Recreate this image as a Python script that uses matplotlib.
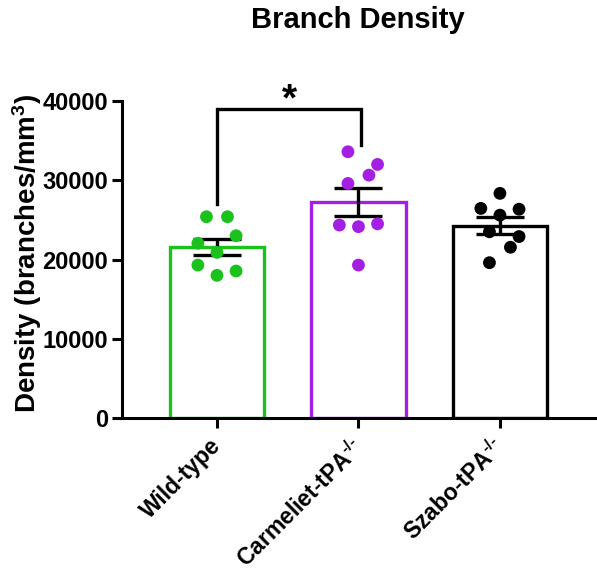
import numpy as np
import matplotlib
matplotlib.use("Agg")
import matplotlib.pyplot as plt
from matplotlib.transforms import ScaledTranslation

# ---- data -------------------------------------------------------------
groups = ["Wild-type", r"Carmeliet-tPA$^{\text{-/-}}$", r"Szabo-tPA$^{\text{-/-}}$"]
wild_type = [25400, 25400, 23000, 22050, 20900, 19300, 18550, 18000]
carmeliet = [33600, 32000, 30650, 29600, 24350, 24150, 24500, 19300]
szabo = [28350, 26450, 26350, 25600, 23500, 22900, 21550, 19600]
yticks = [0, 10000, 20000, 30000, 40000]

# significance annotation between the first two groups
sig_label = "*"
sig_top = 39000
sig_left_end = 27000
sig_right_end = 34500

# ---- layout / style ---------------------------------------------------
colors = ["#1cc21c", "#a51fe3", "#000000"]
bar_width = 0.67
jitter_step = 0.135
# horizontal slot of each dot (in steps of jitter_step)
slots = [
    [-0.55, 0.55, 1.0, -1.0, 0.0, -1.0, 1.0, 0.0],
    [-0.55, 1.0, 0.55, -0.55, -1.0, 0.0, 1.0, 0.0],
    [0.0, -1.0, 1.0, 0.0, -0.55, 1.0, 0.55, -0.55],
]

plt.rcParams["font.family"] = ["Liberation Sans", "DejaVu Sans"]
plt.rcParams["font.weight"] = "bold"
plt.rcParams["mathtext.fontset"] = "custom"
plt.rcParams["mathtext.rm"] = "Liberation Sans:bold"
plt.rcParams["mathtext.bf"] = "Liberation Sans:bold"
plt.rcParams["mathtext.default"] = "rm"

fig = plt.figure(figsize=(5.97, 5.71), dpi=100)
ax = fig.add_axes([0.2044, 0.268, 0.7956, 0.555])

series = [wild_type, carmeliet, szabo]
lw = 2.4
for i, (vals, col) in enumerate(zip(series, colors)):
    vals = np.asarray(vals, dtype=float)
    mean = vals.mean()
    sem = vals.std(ddof=1) / np.sqrt(len(vals))
    ax.bar(i, mean, width=bar_width, facecolor="white", edgecolor=col,
           linewidth=lw, zorder=2)
    ax.errorbar(i, mean, yerr=sem, color="black", elinewidth=lw,
                capsize=17, capthick=lw, zorder=3)
    xs = i + np.asarray(slots[i]) * jitter_step
    ax.scatter(xs, vals, s=85, color=col, edgecolors="none", zorder=4,
               clip_on=False)

# significance bracket
ax.plot([0, 0, 1.02, 1.02], [sig_left_end, sig_top, sig_top, sig_right_end],
        color="black", lw=lw, clip_on=False, zorder=5,
        solid_joinstyle="miter")
ax.text(0.51, 38800, sig_label, ha="center", va="baseline",
        fontsize=28, fontweight="bold", clip_on=False)

ax.set_xlim(-0.671, 2.686)
ax.set_ylim(0, 40000)
ax.set_yticks(yticks)
ax.set_yticklabels([str(v) for v in yticks], fontsize=17, fontweight="bold")
ax.set_xticks(range(len(groups)))
ax.set_xticklabels(groups, rotation=45, ha="right", rotation_mode="anchor",
                   fontsize=16.5, fontweight="bold")

for s in ["top", "right"]:
    ax.spines[s].set_visible(False)
for s in ["left", "bottom"]:
    ax.spines[s].set_linewidth(2.2)
ax.tick_params(axis="y", width=2.2, length=7, direction="out", pad=3)
ax.tick_params(axis="x", width=2.2, length=7, direction="out", pad=5)

# nudge the slanted category labels so their ends sit under the ticks
shift = ScaledTranslation(-8 / 100, 0, fig.dpi_scale_trans)
for lab in ax.get_xticklabels():
    lab.set_transform(lab.get_transform() + shift)

ax.set_ylabel(r"Density (branches/mm$^3$)", fontsize=20, fontweight="bold")
ax.yaxis.label.set_va("center")
ax.yaxis.set_label_coords(-0.2, 0.52)
fig.text(0.6, 0.965, "Branch Density", ha="center", va="center",
         fontsize=21, fontweight="bold")

fig.savefig("out.png", dpi=100)
